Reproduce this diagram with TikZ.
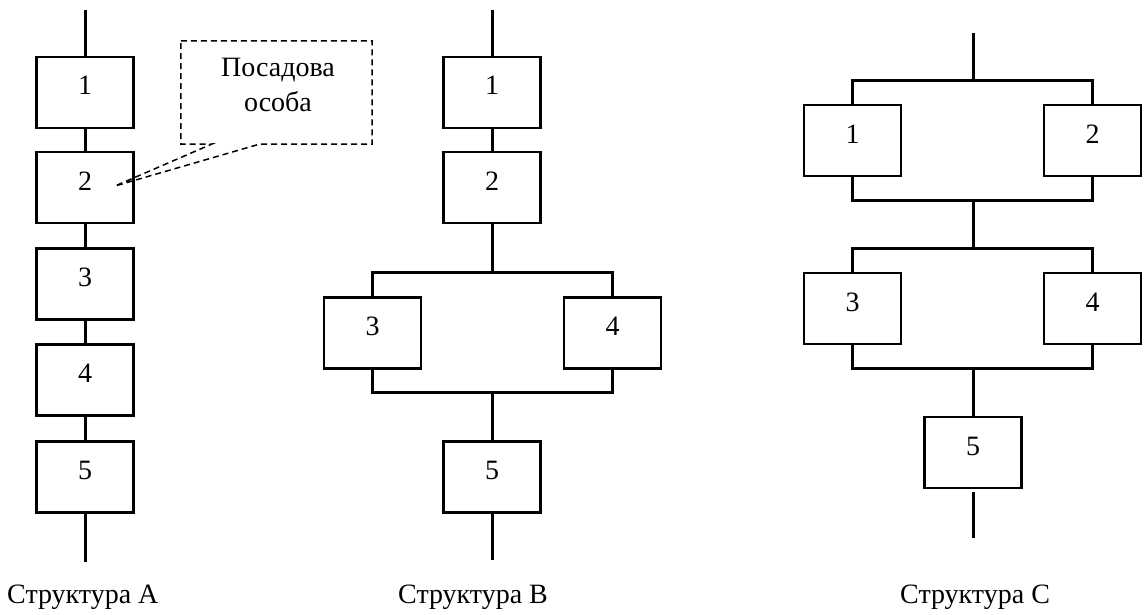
\documentclass[tikz,border=0pt]{standalone}
\usepackage{fontspec}
\setmainfont{Liberation Serif}
\begin{document}
\begin{tikzpicture}[x=1pt,y=-1pt,
  blk/.style={draw,line width=2.2pt,rectangle,minimum width=97pt,minimum height=71pt,inner sep=0pt,
    font=\fontsize{28}{32}\selectfont,text height=19pt,text depth=14pt},
  wire/.style={line width=3pt,line join=miter},
  lbl/.style={font=\fontsize{28}{32}\selectfont,anchor=base west,inner sep=0pt},
  dsh/.style={line width=1.5pt,dash pattern=on 6pt off 4pt}]
\useasboundingbox (0,0) rectangle (1145,615);

% ---------- Structure A ----------
\node[blk] (a1) at (85,92.5) {1};
\node[blk] (a2) at (85,187.5) {2};
\node[blk] (a3) at (85,284) {3};
\node[blk] (a4) at (85,380) {4};
\node[blk] (a5) at (85,477) {5};
\coordinate (atop) at (85,10);
\coordinate (abot) at (85,562);
\draw[wire] (atop) -- (a1);
\draw[wire] (a1) -- (a2);
\draw[wire] (a2) -- (a3);
\draw[wire] (a3) -- (a4);
\draw[wire] (a4) -- (a5);
\draw[wire] (a5) -- (abot);
\node[lbl] (la) at (7,603) {Структура А};

% callout
\node[minimum width=191pt,minimum height=103pt,inner sep=0pt] (cbox) at (276.5,92.5) {};
\coordinate (cb1) at (212,144);
\coordinate (cb2) at (260,144);
\coordinate (ctip) at (115,186);
\draw[dsh] (cbox.north west) -- (cbox.north east) -- (cbox.south east) -- (cb2) -- (ctip) -- (cb1) -- (cbox.south west) -- cycle;
\node[font=\fontsize{28}{35}\selectfont,align=center,anchor=base,inner sep=0pt] (ctext) at (278,112) {Посадова\\особа};

% ---------- Structure B ----------
\node[blk] (b1) at (492,92.5) {1};
\node[blk] (b2) at (492,187.5) {2};
\node[blk] (b3) at (372.5,333) {3};
\node[blk] (b4) at (612.5,333) {4};
\node[blk] (b5) at (492,477) {5};
\coordinate (btop) at (492,10);
\coordinate (bsplit) at (492,272);
\coordinate (bjoin) at (492,392);
\coordinate (bbot) at (492,560);
\draw[wire] (btop) -- (b1);
\draw[wire] (b1) -- (b2);
\draw[wire] (b2) -- (bsplit);
\draw[wire] (b3.north) |- (bsplit) -| (b4.north);
\draw[wire] (b3.south) |- (bjoin) -| (b4.south);
\draw[wire] (bjoin) -- (b5);
\draw[wire] (b5) -- (bbot);
\node[lbl] (lb) at (398,603) {Структура В};

% ---------- Structure C ----------
\node[blk] (c1) at (852.5,140.5) {1};
\node[blk] (c2) at (1092.5,140.5) {2};
\node[blk] (c3) at (852.5,308.5) {3};
\node[blk] (c4) at (1092.5,308.5) {4};
\node[blk] (c5) at (973,452.5) {5};
\coordinate (ctop) at (973,33);
\coordinate (csplitA) at (973,81);
\coordinate (cjoinA) at (973,200);
\coordinate (csplitB) at (973,248);
\coordinate (cjoinB) at (973,368);
\coordinate (cgap) at (973,492);
\coordinate (cbot) at (973,538);
\draw[wire] (ctop) -- (csplitA);
\draw[wire] (c1.north) |- (csplitA) -| (c2.north);
\draw[wire] (c1.south) |- (cjoinA) -| (c2.south);
\draw[wire] (cjoinA) -- (csplitB);
\draw[wire] (c3.north) |- (csplitB) -| (c4.north);
\draw[wire] (c3.south) |- (cjoinB) -| (c4.south);
\draw[wire] (cjoinB) -- (c5);
\draw[wire] (cgap) -- (cbot);
\node[lbl] (lc) at (900,603) {Структура С};
\end{tikzpicture}
\end{document}
